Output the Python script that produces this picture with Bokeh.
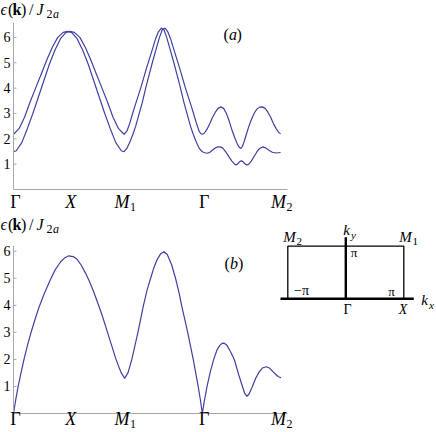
from bokeh.plotting import figure
from bokeh.models import Range1d, FixedTicker, Label, LinearAxis
from bokeh.embed import file_html
from bokeh.resources import INLINE

SERIF = "Liberation Serif"
CURVE = "#4040a0"
AXIS = "#a8a8a8"

# ---------------- data (k along path in units of pi) ----------------
tick_pos = [0.0, 1.0, 2.0, 3.414, 4.828]          # Γ, X, M1, Γ, M2
tick_main = ["Γ", "X", "M", "Γ", "M"]
tick_sub = ["", "", "1", "", "2"]
tick_italic = [False, True, True, False, True]
y_ticks = [1, 2, 3, 4, 5, 6]

# panel (a): Γ -> X -> M1
a1_k = [0, 0.1, 0.2, 0.3, 0.4, 0.5, 0.6, 0.7, 0.8, 0.9, 0.98, 1.05, 1.15, 1.25, 1.35, 1.45, 1.55, 1.65, 1.75, 1.85, 1.95, 2.0]
a1_e = [2.18, 2.4, 2.85, 3.45, 4.0, 4.55, 5.1, 5.6, 6.0, 6.2, 6.24, 6.2, 5.95, 5.5, 4.95, 4.3, 3.65, 3.0, 2.4, 1.85, 1.53, 1.49]
a2_k = [0, 0.05, 0.15, 0.25, 0.35, 0.45, 0.55, 0.65, 0.75, 0.85, 0.95, 1.02, 1.1, 1.2, 1.3, 1.4, 1.5, 1.6, 1.7, 1.8, 1.9, 2.0]
a2_e = [1.49, 1.53, 1.85, 2.4, 3.0, 3.65, 4.3, 4.95, 5.5, 5.95, 6.2, 6.24, 6.2, 6.0, 5.6, 5.1, 4.55, 4.0, 3.45, 2.85, 2.4, 2.18]
# panel (a): M1 -> Γ
b1_k = [2.05, 2.11, 2.16, 2.21, 2.27, 2.33, 2.39, 2.45, 2.51, 2.58, 2.64, 2.69, 2.74, 2.79, 2.84, 2.91, 3.01, 3.11, 3.21, 3.26, 3.31, 3.36, 3.39, 3.414]
b1_e = [1.62, 1.9, 2.18, 2.5, 2.97, 3.45, 4.0, 4.5, 5.0, 5.55, 6.0, 6.3, 6.37, 6.22, 5.95, 5.45, 4.75, 4.0, 3.32, 2.97, 2.6, 2.28, 2.2, 2.18]
b2_k = [2.05, 2.1, 2.15, 2.2, 2.3, 2.4, 2.5, 2.57, 2.62, 2.675, 2.72, 2.77, 2.83, 2.9, 2.96, 3.02, 3.08, 3.14, 3.2, 3.25, 3.3, 3.36, 3.414]
b2_e = [2.3, 2.6, 2.97, 3.32, 4.0, 4.75, 5.45, 5.95, 6.22, 6.37, 6.3, 6.0, 5.55, 5.0, 4.5, 4.0, 3.45, 2.97, 2.5, 2.18, 1.9, 1.62, 1.49]
# panel (a): Γ -> M2
c1_k = [3.45, 3.5, 3.55, 3.6, 3.65, 3.7, 3.747, 3.8, 3.85, 3.9, 3.95, 4.0, 4.05, 4.085, 4.11, 4.135, 4.17, 4.2, 4.25, 4.3, 4.35, 4.4, 4.45, 4.5, 4.55, 4.6, 4.65, 4.7, 4.75, 4.8, 4.83]
c1_e = [2.22, 2.38, 2.6, 2.85, 3.05, 3.2, 3.26, 3.2, 3.0, 2.7, 2.35, 2.05, 1.78, 1.66, 1.62, 1.68, 1.88, 2.1, 2.45, 2.75, 3.0, 3.17, 3.25, 3.26, 3.2, 3.05, 2.85, 2.6, 2.4, 2.24, 2.2]
c2_k = [3.46, 3.506, 3.55, 3.6, 3.65, 3.7, 3.735, 3.78, 3.85, 3.9, 3.95, 4.0, 4.02, 4.06, 4.09, 4.12, 4.15, 4.18, 4.22, 4.25, 4.3, 4.35, 4.4, 4.45, 4.51, 4.56, 4.62, 4.68, 4.75, 4.83]
c2_e = [1.45, 1.43, 1.47, 1.56, 1.64, 1.68, 1.68, 1.64, 1.45, 1.28, 1.12, 1.0, 0.97, 1.02, 1.1, 1.13, 1.1, 1.02, 0.97, 0.99, 1.12, 1.3, 1.48, 1.62, 1.68, 1.64, 1.55, 1.47, 1.44, 1.46]

# panel (b): single band
p_k = [0, 0.04, 0.084, 0.13, 0.19, 0.25, 0.325, 0.4, 0.46, 0.55, 0.66, 0.75, 0.85, 0.93, 1.0, 1.08, 1.15, 1.22, 1.3, 1.37, 1.45, 1.53, 1.6, 1.7, 1.8, 1.85, 1.9, 1.95, 2.01, 2.07, 2.14, 2.2, 2.25, 2.3, 2.35, 2.42, 2.48, 2.54, 2.6, 2.66, 2.72, 2.78, 2.86, 2.93, 3.0, 3.04, 3.1, 3.15, 3.2, 3.25, 3.3, 3.34, 3.38, 3.414, 3.45, 3.5, 3.56, 3.62, 3.68, 3.73, 3.77, 3.81, 3.86, 3.92, 3.97, 4.0, 4.07, 4.14, 4.18, 4.22, 4.26, 4.32, 4.38, 4.44, 4.5, 4.57, 4.63, 4.69, 4.74, 4.79, 4.84]
p_e = [0, 0.5, 1.0, 1.45, 2.0, 2.5, 3.05, 3.55, 3.92, 4.4, 4.92, 5.3, 5.6, 5.76, 5.83, 5.8, 5.7, 5.5, 5.2, 4.9, 4.5, 4.05, 3.65, 3.0, 2.35, 2.02, 1.75, 1.5, 1.3, 1.5, 2.0, 2.55, 3.0, 3.5, 4.0, 4.6, 5.0, 5.4, 5.7, 5.9, 5.98, 5.88, 5.5, 5.0, 4.4, 4.0, 3.45, 3.0, 2.5, 2.0, 1.45, 1.0, 0.5, 0, 0.45, 1.0, 1.55, 2.0, 2.35, 2.52, 2.59, 2.6, 2.52, 2.3, 2.1, 1.95, 1.45, 1.0, 0.75, 0.63, 0.72, 1.0, 1.3, 1.53, 1.68, 1.73, 1.68, 1.55, 1.45, 1.36, 1.32]

# inset: Brillouin zone (units of pi)
bz_rect_kx = [-1, -1, 1, 1]
bz_rect_ky = [0, 1, 1, 0]
kx_axis = [-1.126, 1.172]
ky_axis = [0.0, 1.171]

# ---------------- layout (page pixels) ----------------
W, H = 436, 432
X0 = 13                 # page x of k = 0
PX_PER_K = 55.3
YA0, PXA = 189, 25.35   # panel (a): page y of E=0, px per unit
YB0, PXB = 413, 27.05   # panel (b)
BZ_CX, BZ_SX = 345.3, 58.0     # inset: page x of kx=0, px per pi
BZ_CY, BZ_SY = 298.3, 52.6     # inset: page y of ky=0, px per pi

# the frame fills the canvas; the axes are pinned at k=0 / E=0 of each panel
p = figure(width=W, height=H, output_backend="svg", toolbar_location=None, title=None,
           x_range=Range1d(-X0 / PX_PER_K, (W - X0) / PX_PER_K),
           y_range=Range1d((YA0 - H) / PXA, YA0 / PXA),
           min_border_left=0, min_border_right=0, min_border_top=0, min_border_bottom=0)
p.extra_y_ranges = {"eb": Range1d((YB0 - H) / PXB, YB0 / PXB),
                    "by": Range1d((BZ_CY - H) / BZ_SY, BZ_CY / BZ_SY)}
p.extra_x_ranges = {"bx": Range1d(-BZ_CX / BZ_SX, (W - BZ_CX) / BZ_SX)}
p.outline_line_color = None
p.grid.visible = False
p.background_fill_color = "white"
p.border_fill_color = "white"


def style_axis(ax, bounds):
    ax.fixed_location = 0
    ax.ticker = FixedTicker(ticks=[])
    ax.bounds = bounds
    ax.axis_line_color = AXIS
    ax.axis_line_width = 1
    ax.major_tick_line_color = None
    ax.minor_tick_line_color = None
    ax.major_tick_in = 0
    ax.major_tick_out = 0
    ax.major_label_standoff = 0


style_axis(p.xaxis[0], (0, 4.95))
style_axis(p.yaxis[0], (0, 6.57))
xb = LinearAxis(y_range_name="eb")
yb = LinearAxis(y_range_name="eb")
style_axis(xb, (0, 4.95))
style_axis(yb, (0, 6.22))
p.add_layout(xb, "below")
p.add_layout(yb, "left")


def txt(text, x, base, size, style="normal", align="left"):
    """Text at page pixel x with its baseline at page y = base."""
    mid = base - 0.34 * size
    p.add_layout(Label(x=x, y=H - mid, x_units="screen", y_units="screen", text=text,
                       text_font=SERIF, text_font_size=f"{size}px", text_font_style=style,
                       text_align=align, text_baseline="middle", text_color="black"))


def energy_ticks(range_name):
    p.ray(x=[0] * len(y_ticks), y=y_ticks, length=3, angle=0, length_units="screen",
          y_range_name=range_name, line_color=AXIS, line_width=1)
    for t in y_ticks:
        p.add_layout(Label(x=X0 - 3, y=t, x_units="screen", y_units="data", y_range_name=range_name,
                           text=str(t), text_font=SERIF, text_font_size="14px", text_align="right",
                           text_baseline="middle", text_color="black"))


def title(base):
    txt("ϵ", 0, base, 16, "italic")
    txt("(", 7.5, base, 16)
    txt("k", 12, base, 16, "bold")
    txt(")", 20.5, base, 16)
    txt("/", 28.5, base, 16)
    txt("J", 36, base, 16, "italic")
    txt("2", 46, base + 4, 12)
    txt("a", 52.5, base + 4, 12, "italic")


def xticklabels(base):
    for k, m, s, it in zip(tick_pos, tick_main, tick_sub, tick_italic):
        sx_ = X0 + PX_PER_K * k
        if s:
            txt(m, sx_ - 2, base, 18, "italic", align="center")
            txt(s, sx_ + 6, base + 3, 12)
        else:
            txt(m, sx_ + 2, base, 18, "italic" if it else "normal", align="center")


# ---------------- panel (a) ----------------
line1_k = a1_k + b1_k + c1_k
line1_e = a1_e + b1_e + c1_e
line2_k = a2_k + b2_k + c2_k
line2_e = a2_e + b2_e + c2_e
p.line(line1_k, line1_e, line_color=CURVE, line_width=1.2)
p.line(line2_k, line2_e, line_color=CURVE, line_width=1.2)
energy_ticks("default")
title(14)
xticklabels(208)
txt("(", 223, 39, 16)
txt("a", 228.5, 39, 16, "italic")
txt(")", 236, 39, 16)

# ---------------- panel (b) ----------------
p.line(p_k, p_e, y_range_name="eb", line_color=CURVE, line_width=1.2)
energy_ticks("eb")
title(229)
xticklabels(425)
txt("(", 224, 268, 16)
txt("b", 229.5, 268, 16, "italic")
txt(")", 237.5, 268, 16)

# inset: Brillouin zone
p.line(bz_rect_kx, bz_rect_ky, x_range_name="bx", y_range_name="by", line_color="black", line_width=1.3)
p.line(kx_axis, [0, 0], x_range_name="bx", y_range_name="by", line_color="black", line_width=2.4)
p.line([0, 0], ky_axis, x_range_name="bx", y_range_name="by", line_color="black", line_width=2.4)

txt("M", 289, 242, 15, "italic", align="center")
txt("2", 296, 245, 11)
txt("M", 405, 242, 15, "italic", align="center")
txt("1", 412, 245, 11)
txt("k", 346, 235, 15, "italic", align="center")
txt("y", 350.5, 238, 11, "italic")
txt("π", 353.5, 256, 13, align="center")
txt("−π", 301, 295, 14, align="center")
txt("π", 391, 295, 13, align="center")
txt("Γ", 347, 313.5, 14, align="center")
txt("X", 402.5, 313.5, 14, "italic", align="center")
txt("k", 424, 305, 15, "italic", align="center")
txt("x", 428.5, 308, 11, "italic")

open("out.html", "w").write(file_html(p, INLINE))
